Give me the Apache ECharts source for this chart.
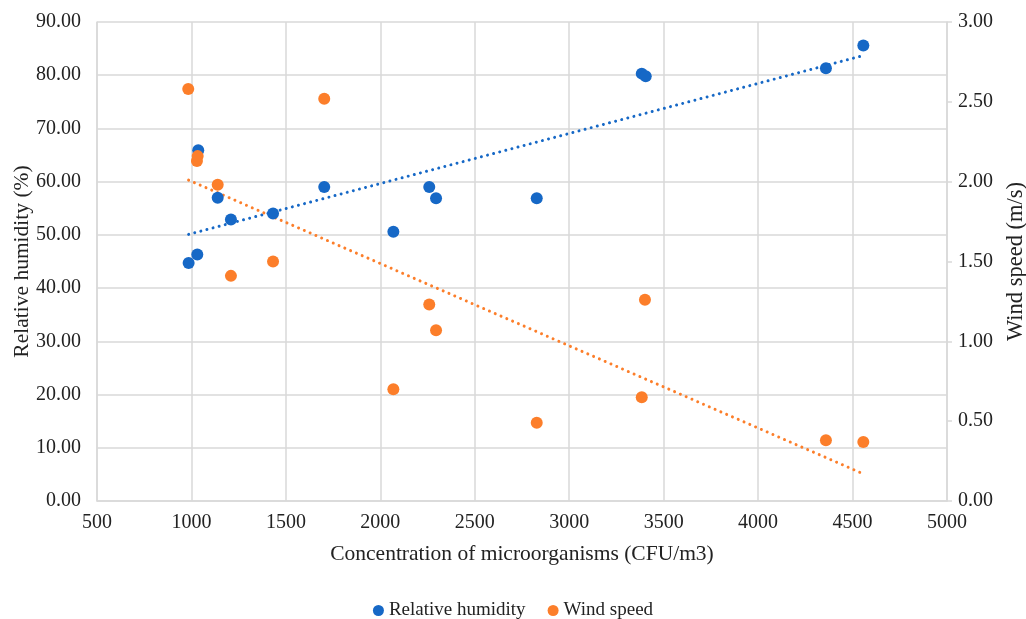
<!DOCTYPE html>
<html>
<head>
<meta charset="utf-8">
<script src="https://cdn.jsdelivr.net/npm/echarts@6/dist/echarts.min.js"></script>
<style>
  html, body { margin: 0; padding: 0; background: #fff; }
  #chart { width: 1026px; height: 619px; }
</style>
</head>
<body>
<div id="chart"></div>
<script>
// values
const humidityX = [985, 1031, 1036, 1139, 1209, 1432, 1703, 2069, 2259, 2295, 2828, 3384, 3405, 4359, 4557]
const humidityY = [44.7, 46.3, 65.9, 57.0, 52.9, 54.0, 59.0, 50.6, 59.0, 56.9, 56.9, 80.3, 79.8, 81.3, 85.6]

const windX = [983, 1029, 1033, 1139, 1209, 1432, 1703, 2069, 2259, 2295, 2828, 3384, 3401, 4359, 4557]
const windY = [2.58, 2.13, 2.16, 1.98, 1.41, 1.50, 2.52, 0.70, 1.23, 1.07, 0.49, 0.65, 1.26, 0.38, 0.37]

// trendline endpoints (as drawn)
const humidityTrendX = [985, 4557]
const humidityTrendY = [50.1, 83.7]
const windTrendX = [985, 4557]
const windTrendY = [2.01, 0.17]

const blue = '#1668C6'
const orange = '#FC7E2A'
const gridColor = '#d9d9d9'
const font = '"Liberation Serif", "Times New Roman", serif'

const zip = (xs, ys) => xs.map((x, i) => [x, ys[i]])

const chart = echarts.init(document.getElementById('chart'))

const option = {
  animation: false,
  textStyle: { fontFamily: font, color: '#222' },
  grid: {
    left: 97,
    right: 79,
    top: 22,
    bottom: 118,
    containLabel: false,
    outerBoundsMode: 'none'
  },
  legend: {
    data: ['Relative humidity', 'Wind speed'],
    bottom: -6,
    left: 'center',
    icon: 'circle',
    itemWidth: 11,
    itemHeight: 11,
    itemGap: 22,
    textStyle: { fontFamily: font, fontSize: 19, color: '#222' }
  },
  xAxis: {
    type: 'value',
    min: 500,
    max: 5000,
    interval: 500,
    name: 'Concentration of microorganisms (CFU/m3)',
    nameLocation: 'middle',
    nameGap: 42,
    nameTextStyle: { fontFamily: font, fontSize: 21.5, color: '#222' },
    axisLine: { show: true, lineStyle: { color: gridColor, width: 1.5 } },
    axisTick: { show: false },
    axisLabel: {
      fontFamily: font, fontSize: 20, color: '#222', margin: 12,
      formatter: v => String(v)
    },
    splitLine: { show: true, lineStyle: { color: gridColor, width: 1.5 } }
  },
  yAxis: [
    {
      type: 'value',
      min: 0,
      max: 90,
      interval: 10,
      name: 'Relative humidity (%)',
      nameLocation: 'middle',
      nameGap: 64,
      nameMoveOverlap: false,
      nameTextStyle: { fontFamily: font, fontSize: 21.5, color: '#222' },
      axisLine: { show: true, lineStyle: { color: gridColor, width: 1.5 } },
      axisTick: { show: false },
      axisLabel: {
        fontFamily: font, fontSize: 20, color: '#222', margin: 16,
        formatter: v => v.toFixed(2)
      },
      splitLine: { show: true, lineStyle: { color: gridColor, width: 1.5 } }
    },
    {
      type: 'value',
      min: 0,
      max: 3,
      interval: 0.5,
      position: 'right',
      name: 'Wind speed (m/s)',
      nameLocation: 'middle',
      nameGap: 58,
      nameRotate: 90,
      nameTextStyle: { fontFamily: font, fontSize: 22.5, color: '#222' },
      axisLine: { show: true, lineStyle: { color: gridColor, width: 1.5 } },
      axisTick: { show: true, length: 5, inside: false, lineStyle: { color: gridColor, width: 1.5 } },
      axisLabel: {
        fontFamily: font, fontSize: 20, color: '#222', margin: 11,
        formatter: v => v.toFixed(2)
      },
      splitLine: { show: false }
    }
  ],
  series: [
    {
      name: 'Humidity trend',
      type: 'line',
      yAxisIndex: 0,
      data: zip(humidityTrendX, humidityTrendY),
      symbol: 'none',
      lineStyle: { color: blue, width: 3, type: [0.01, 6.3], cap: 'round' },
      z: 1
    },
    {
      name: 'Wind trend',
      type: 'line',
      yAxisIndex: 1,
      data: zip(windTrendX, windTrendY),
      symbol: 'none',
      lineStyle: { color: orange, width: 3, type: [0.01, 6.3], cap: 'round' },
      z: 1
    },
    {
      name: 'Relative humidity',
      type: 'scatter',
      yAxisIndex: 0,
      data: zip(humidityX, humidityY),
      symbolSize: 12,
      itemStyle: { color: blue, opacity: 1 },
      z: 3
    },
    {
      name: 'Wind speed',
      type: 'scatter',
      yAxisIndex: 1,
      data: zip(windX, windY),
      symbolSize: 12,
      itemStyle: { color: orange, opacity: 1 },
      z: 3
    }
  ]
}

chart.setOption(option)
</script>
</body>
</html>
